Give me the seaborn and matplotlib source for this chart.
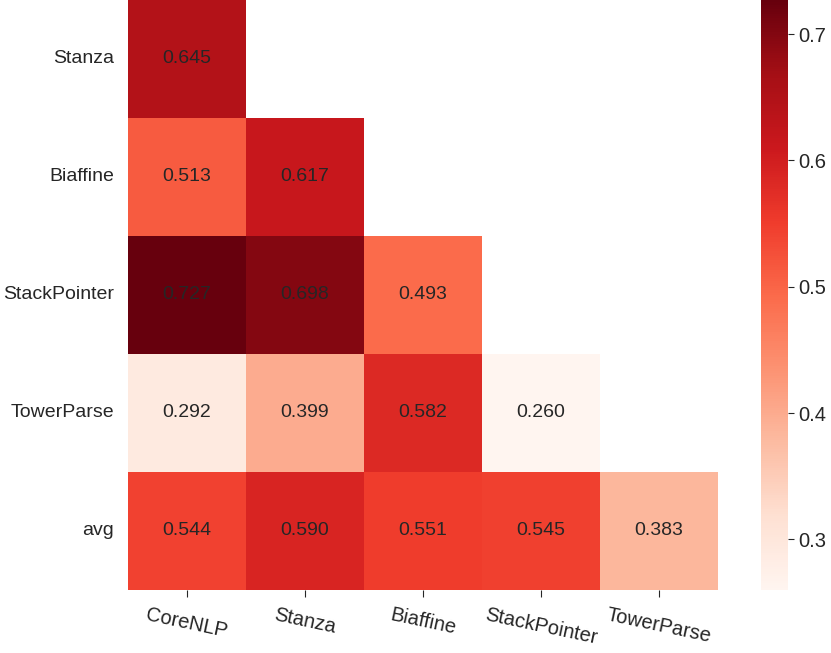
import numpy as np
import pandas as pd
import matplotlib
matplotlib.use('Agg')
import matplotlib.pyplot as plt
import seaborn as sns

# Data
rows = ['Stanza', 'Biaffine', 'StackPointer', 'TowerParse', 'avg']
cols = ['CoreNLP', 'Stanza', 'Biaffine', 'StackPointer', 'TowerParse']
stanza_row = [0.645, np.nan, np.nan, np.nan, np.nan]
biaffine_row = [0.513, 0.617, np.nan, np.nan, np.nan]
stackpointer_row = [0.727, 0.698, 0.493, np.nan, np.nan]
towerparse_row = [0.292, 0.399, 0.582, 0.260, np.nan]
avg_row = [0.544, 0.590, 0.551, 0.545, 0.383]

df = pd.DataFrame([stanza_row, biaffine_row, stackpointer_row, towerparse_row, avg_row],
                  index=rows, columns=cols)
mask = np.triu(np.ones(df.shape, dtype=bool), k=1)

sns.set_style('ticks')
plt.rcParams['font.family'] = ['Liberation Sans', 'DejaVu Sans']

fig = plt.figure(figsize=(8.31, 6.53), dpi=100)
ax = fig.add_axes([0.154, 0.0965, 0.71, 0.9035])
cax = fig.add_axes([0.916, 0.0965, 0.0325, 0.9035])

sns.heatmap(df, mask=mask, cmap='Reds', annot=True, fmt='.3f',
            annot_kws={'color': '#262626', 'fontsize': 14},
            ax=ax, cbar_ax=cax)

ax.tick_params(axis='x', labelsize=14.5, length=5, pad=6, color='#262626')
ax.tick_params(axis='y', labelsize=14, length=0, pad=10)
plt.setp(ax.get_xticklabels(), rotation=-12, ha='center', va='top')
plt.setp(ax.get_yticklabels(), rotation=0)
cax.tick_params(labelsize=14.5, length=4)
for sp in cax.spines.values():
    sp.set_visible(False)

fig.savefig('out.png', dpi=100)
